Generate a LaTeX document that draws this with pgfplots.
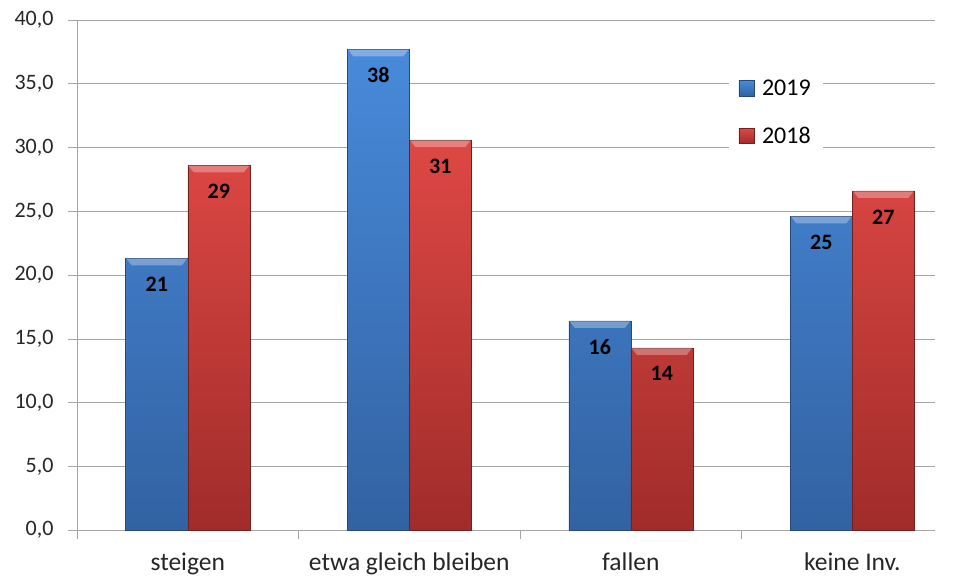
\documentclass[border=0pt]{standalone}
\usepackage{fontspec}
\setmainfont{Carlito}
\usepackage{pgfplots}
\pgfplotsset{compat=1.18}
\definecolor{bluetop}{RGB}{72,138,218}
\definecolor{bluebot}{RGB}{50,98,162}
\definecolor{blueedge}{RGB}{40,72,124}
\definecolor{redtop}{RGB}{222,72,68}
\definecolor{redbot}{RGB}{160,44,42}
\definecolor{rededge}{RGB}{112,32,30}
\definecolor{gridgray}{RGB}{165,165,165}
% light bevel on top of each bar
\pgfdeclareplotmark{bevel}{%
  \pgfpathmoveto{\pgfqpoint{-30.5pt}{0pt}}%
  \pgfpathlineto{\pgfqpoint{30.5pt}{0pt}}%
  \pgfpathlineto{\pgfqpoint{25pt}{-7pt}}%
  \pgfpathlineto{\pgfqpoint{-25pt}{-7pt}}%
  \pgfpathclose\pgfusepathqfill}
\begin{document}
\begin{tikzpicture}
\begin{axis}[
    scale only axis, width=858pt, height=510pt,
    xmin=-0.5, xmax=3.374, ymin=0, ymax=40,
    axis x line=bottom, axis y line=left,
    axis line style={gridgray, -},
    ymajorgrids, grid style={gridgray, line width=0.6pt},
    ytick={0,5,...,40},
    xtick={-0.5,0.5,1.5,2.5}, xticklabels={},
    extra x ticks={0,1,2,3},
    extra x tick labels={steigen, etwa gleich bleiben, fallen, keine Inv.},
    extra x tick style={major tick length=0pt, grid=none},
    tick align=outside, major tick length=9pt,
    tick style={gridgray, line width=0.6pt},
    x tick label style={font=\fontsize{25.5}{30}\selectfont, text=black!85, yshift=-19pt},
    y tick label style={font=\fontsize{22}{26}\selectfont, text=black!85, xshift=-11pt},
    yticklabel style={/pgf/number format/.cd, fixed, fixed zerofill, precision=1, use comma, assume math mode=true},
    bars/.style={ybar, bar width=62pt, bar shift=#1, line width=0.5pt,
        point meta=explicit symbolic, nodes near coords,
        every node near coord/.append style={font=\bfseries\fontsize{22}{26}\selectfont,
            anchor=center, xshift=#1, yshift=-26pt, text=black}},
    clip=false,
    legend style={at={(0.759,0.902)}, anchor=north west, draw=none, fill=white,
        font=\fontsize{24}{28}\selectfont, row sep=26pt, column sep=6pt,
        inner xsep=10pt, inner ysep=8pt},
    legend cell align=left,
    legend image code/.code={\draw[#1] (0pt,-7pt) rectangle (15pt,8pt);},
]
\addplot[bars=-31pt, top color=bluetop, bottom color=bluebot, draw=blueedge]
    coordinates {(0,21.3) [21] (1,37.7) [38] (2,16.4) [16] (3,24.6) [25]};
\addplot[bars=31pt, top color=redtop, bottom color=redbot, draw=rededge]
    coordinates {(0,28.6) [29] (1,30.6) [31] (2,14.3) [14] (3,26.6) [27]};
\legend{2019, 2018}
\addplot[only marks, mark=bevel, mark options={fill=white, fill opacity=0.3}, forget plot]
    coordinates {(-0.14,21.3) (0.86,37.7) (1.86,16.4) (2.86,24.6)
                 (0.14,28.6) (1.14,30.6) (2.14,14.3) (3.14,26.6)};
\path (axis cs:-0.8476,-3.53) rectangle (axis cs:3.459,41.57);
\end{axis}
\end{tikzpicture}
\end{document}
